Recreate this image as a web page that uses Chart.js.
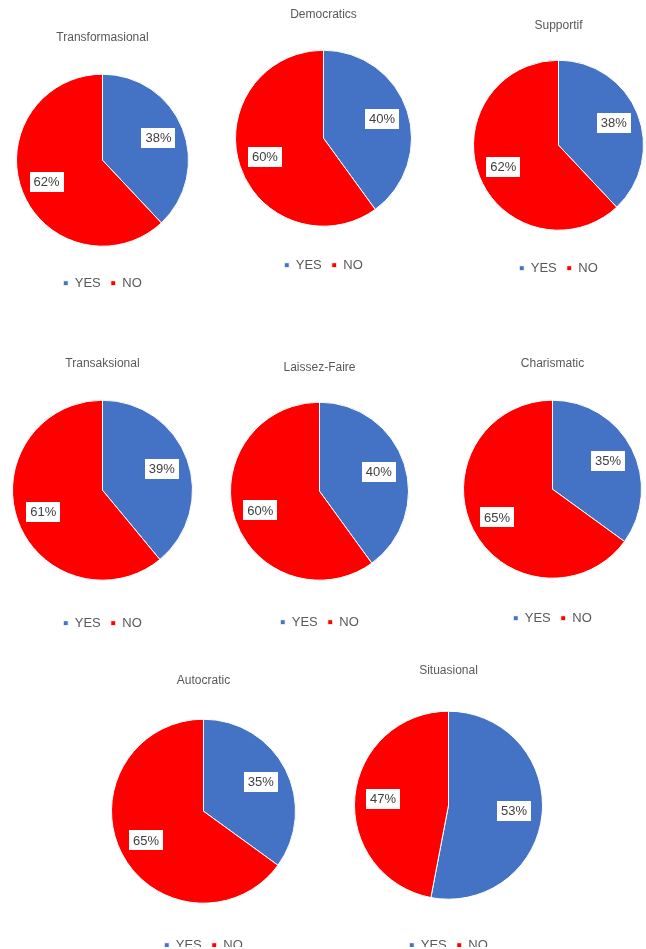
<!DOCTYPE html>
<html>
<head>
<meta charset="utf-8">
<script src="https://cdn.jsdelivr.net/npm/chart.js@4/dist/chart.umd.min.js"></script>
<style>
  html { margin: 0; padding: 0; background: #fff; overflow: hidden; }
  body { margin: 0; padding: 0; background: #fff; width: 646px; height: 947px; position: relative; overflow: hidden; }
  .pie-box { position: absolute; }
</style>
</head>
<body>
<script>
/* ── data ───────────────────────────────────── */
const answers = ['YES', 'NO'];
const styles = ['Transformasional', 'Democratics', 'Supportif', 'Transaksional',
                'Laissez-Faire', 'Charismatic', 'Autocratic', 'Situasional'];
const yesPct = [38, 40, 38, 39, 40, 35, 35, 53];
const noPct  = [62, 60, 62, 61, 60, 65, 65, 47];

/* ── layout: pie centre, radius, title / legend text lines ── */
const spots = [
  { cx: 102, cy: 160, r: 86, titleY: 37,  legendY: 283 },
  { cx: 323, cy: 138, r: 88, titleY: 14,  legendY: 265 },
  { cx: 558, cy: 145, r: 85, titleY: 25,  legendY: 268 },
  { cx: 102, cy: 490, r: 90, titleY: 363, legendY: 623 },
  { cx: 319, cy: 491, r: 89, titleY: 367, legendY: 622 },
  { cx: 552, cy: 489, r: 89, titleY: 363, legendY: 618 },
  { cx: 203, cy: 811, r: 92, titleY: 680, legendY: 945 },
  { cx: 448, cy: 805, r: 94, titleY: 670, legendY: 945 }
];

const BLUE = '#4472C4', RED = '#FF0000', GREY = '#595959';
const FONT = "'Liberation Sans', Arial, sans-serif";
const TITLE_SIZE = 12, LEGEND_SIZE = 13, LEGEND_PAD = 10;

// white boxed percentage labels, like the Excel data labels
const pctLabels = {
  id: 'pctLabels',
  afterDatasetsDraw(chart) {
    const { ctx } = chart;
    const meta = chart.getDatasetMeta(0);
    ctx.save();
    ctx.font = '13px ' + FONT;
    ctx.textAlign = 'center';
    ctx.textBaseline = 'middle';
    meta.data.forEach((arc, i) => {
      const { x, y, startAngle, endAngle, outerRadius } =
        arc.getProps(['x', 'y', 'startAngle', 'endAngle', 'outerRadius'], true);
      const mid = (startAngle + endAngle) / 2;
      const px = x + Math.cos(mid) * outerRadius * 0.7;
      const py = y + Math.sin(mid) * outerRadius * 0.7;
      const txt = chart.data.datasets[0].data[i] + '%';
      const w = ctx.measureText(txt).width + 8, h = 20;
      ctx.fillStyle = '#fff';
      ctx.fillRect(Math.round(px - w / 2), Math.round(py - h / 2), Math.round(w), h);
      ctx.fillStyle = '#404040';
      ctx.fillText(txt, px, py + 0.5);
    });
    ctx.restore();
  }
};

styles.forEach((name, k) => {
  const s = spots[k];
  const W = 2 * s.r + 1;
  const titleLine = TITLE_SIZE * 1.2;
  const top = s.titleY - titleLine / 2;
  const legendH = LEGEND_SIZE + LEGEND_PAD + 10;
  const legendTop = s.legendY - (LEGEND_PAD + LEGEND_SIZE / 2);
  const areaTop = 2 * s.cy - legendTop;          // keeps the pie centred on cy
  const titleGap = areaTop - top - titleLine;
  const H = legendTop + legendH - top;

  const box = document.createElement('div');
  box.className = 'pie-box';
  box.style.left = Math.round(s.cx - W / 2) + 'px';
  box.style.top = top + 'px';
  box.style.width = W + 'px';
  box.style.height = H + 'px';
  const cv = document.createElement('canvas');
  box.appendChild(cv);
  document.body.appendChild(box);

  new Chart(cv, {
    type: 'pie',
    data: {
      labels: answers,
      datasets: [{
        data: [yesPct[k], noPct[k]],
        backgroundColor: [BLUE, RED],
        borderColor: '#fff', borderWidth: 1,
        hoverOffset: 0
      }]
    },
    options: {
      responsive: true, maintainAspectRatio: false, animation: false,
      layout: { padding: 0 },
      plugins: {
        title: {
          display: true, text: name, color: GREY,
          font: { family: FONT, size: TITLE_SIZE, weight: 'normal' },
          padding: { top: 0, bottom: titleGap }
        },
        legend: {
          position: 'bottom',
          labels: {
            color: GREY, padding: LEGEND_PAD,
            usePointStyle: true, pointStyle: 'rect', boxWidth: 5, boxHeight: 5,
            font: { family: FONT, size: LEGEND_SIZE }
          }
        },
        tooltip: { enabled: false }
      }
    },
    plugins: [pctLabels]
  });
});
</script>
</body>
</html>
